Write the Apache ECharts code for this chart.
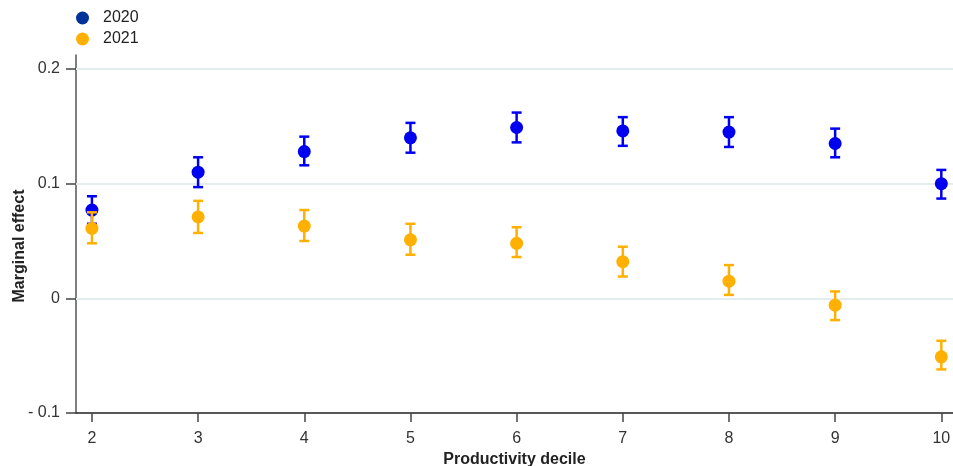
<!DOCTYPE html>
<html><head><meta charset="utf-8">
<script src="https://cdn.jsdelivr.net/npm/echarts@6/dist/echarts.min.js"></script>
<style>html,body{margin:0;padding:0;background:#fff}#c{width:953px;height:466px}</style>
</head><body><div id="c"></div>
<script>
const deciles = [2,3,4,5,6,7,8,9,10];
const est2020 = [0.077,0.110,0.128,0.140,0.149,0.146,0.145,0.135,0.100];
const lo2020  = [0.065,0.097,0.116,0.127,0.136,0.133,0.132,0.123,0.087];
const hi2020  = [0.089,0.123,0.141,0.153,0.162,0.158,0.158,0.148,0.112];
const est2021 = [0.061,0.071,0.063,0.051,0.048,0.032,0.015,-0.006,-0.051];
const lo2021  = [0.048,0.057,0.050,0.038,0.036,0.019,0.003,-0.019,-0.062];
const hi2021  = [0.075,0.085,0.077,0.065,0.062,0.045,0.029,0.006,-0.037];
const yTicks = [-0.1,0,0.1,0.2];
const gridLines = [0,0.1,0.2];

const blue='#0000f0', blueLegend='#003399', orange='#ffb000';
function errSeries(lo,hi,color){
  return {type:'custom',z:2,silent:true,
    data:deciles.map((d,i)=>[d,lo[i],hi[i]]),
    renderItem:function(params,api){
      const x=api.value(0);
      const p1=api.coord([x,api.value(1)]), p2=api.coord([x,api.value(2)]);
      const w=5, st={stroke:color,lineWidth:2.5};
      return {type:'group',children:[
        {type:'line',shape:{x1:p1[0],y1:p1[1],x2:p2[0],y2:p2[1]},style:st},
        {type:'line',shape:{x1:p1[0]-w,y1:p1[1],x2:p1[0]+w,y2:p1[1]},style:st},
        {type:'line',shape:{x1:p2[0]-w,y1:p2[1],x2:p2[0]+w,y2:p2[1]},style:st}
      ]};
    }};
}
const chart=echarts.init(document.getElementById('c'),null,{renderer:'canvas'});
const font='"Liberation Sans", Arial, sans-serif';
chart.setOption({
  animation:false,
  textStyle:{fontFamily:font},
  legend:{left:71,top:5,orient:'vertical',itemGap:5,itemWidth:13,itemHeight:13,
    textStyle:{fontSize:16,lineHeight:16,color:'#222',fontFamily:font,padding:[0,0,0,9]},
    data:[{name:'2020',icon:'circle',itemStyle:{color:blueLegend}},{name:'2021',icon:'circle',itemStyle:{color:orange}}]},
  grid:{left:76,right:0,top:55,bottom:53,containLabel:false,outerBoundsMode:'none'},
  xAxis:{type:'value',min:1.85,max:10.11,
    name:'Productivity decile',nameLocation:'middle',nameGap:39,nameMoveOverlap:false,
    nameTextStyle:{fontSize:16,fontWeight:'bold',color:'#222',fontFamily:font},
    axisLine:{onZero:false,lineStyle:{color:'#222',width:1.5}},
    axisTick:{show:true,customValues:deciles,length:9,lineStyle:{color:'#444',width:1.5}},
    axisLabel:{customValues:deciles,fontSize:16,color:'#333',margin:18,fontFamily:font},
    splitLine:{show:false}},
  yAxis:{type:'value',min:-0.1,max:0.2122,interval:0.1,
    name:'Marginal effect',nameLocation:'middle',nameGap:48,nameRotate:90,nameMoveOverlap:false,
    nameTextStyle:{fontSize:16,fontWeight:'bold',color:'#222',fontFamily:font,padding:[0,24,0,0]},
    axisLine:{show:true,onZero:false,lineStyle:{color:'#555',width:1.5}},
    axisTick:{show:true,customValues:yTicks,length:10,lineStyle:{color:'#444',width:1.5}},
    axisLabel:{customValues:yTicks,fontSize:16,color:'#333',margin:16,fontFamily:font,
      formatter:v=>{const r=Math.round(v*10)/10; if(r===0) return '0'; return r<0?'- '+Math.abs(r):String(r);}},
    splitLine:{show:false}},
  series:[
    {name:'grid',type:'scatter',z:1,data:[],silent:true,
      markLine:{silent:true,z:1,symbol:'none',label:{show:false},animation:false,
        lineStyle:{color:'#e4eded',width:2,type:'solid'},
        data:gridLines.map(v=>({yAxis:v}))}},
    Object.assign(errSeries(lo2020,hi2020,blue),{name:'2020'}),
    {name:'2020',type:'scatter',z:3,symbolSize:13,itemStyle:{color:blue,opacity:1},data:deciles.map((d,i)=>[d,est2020[i]])},
    Object.assign(errSeries(lo2021,hi2021,orange),{name:'2021',z:4}),
    {name:'2021',type:'scatter',z:5,symbolSize:13,itemStyle:{color:orange,opacity:1},data:deciles.map((d,i)=>[d,est2021[i]])}
  ]
});
</script></body></html>
